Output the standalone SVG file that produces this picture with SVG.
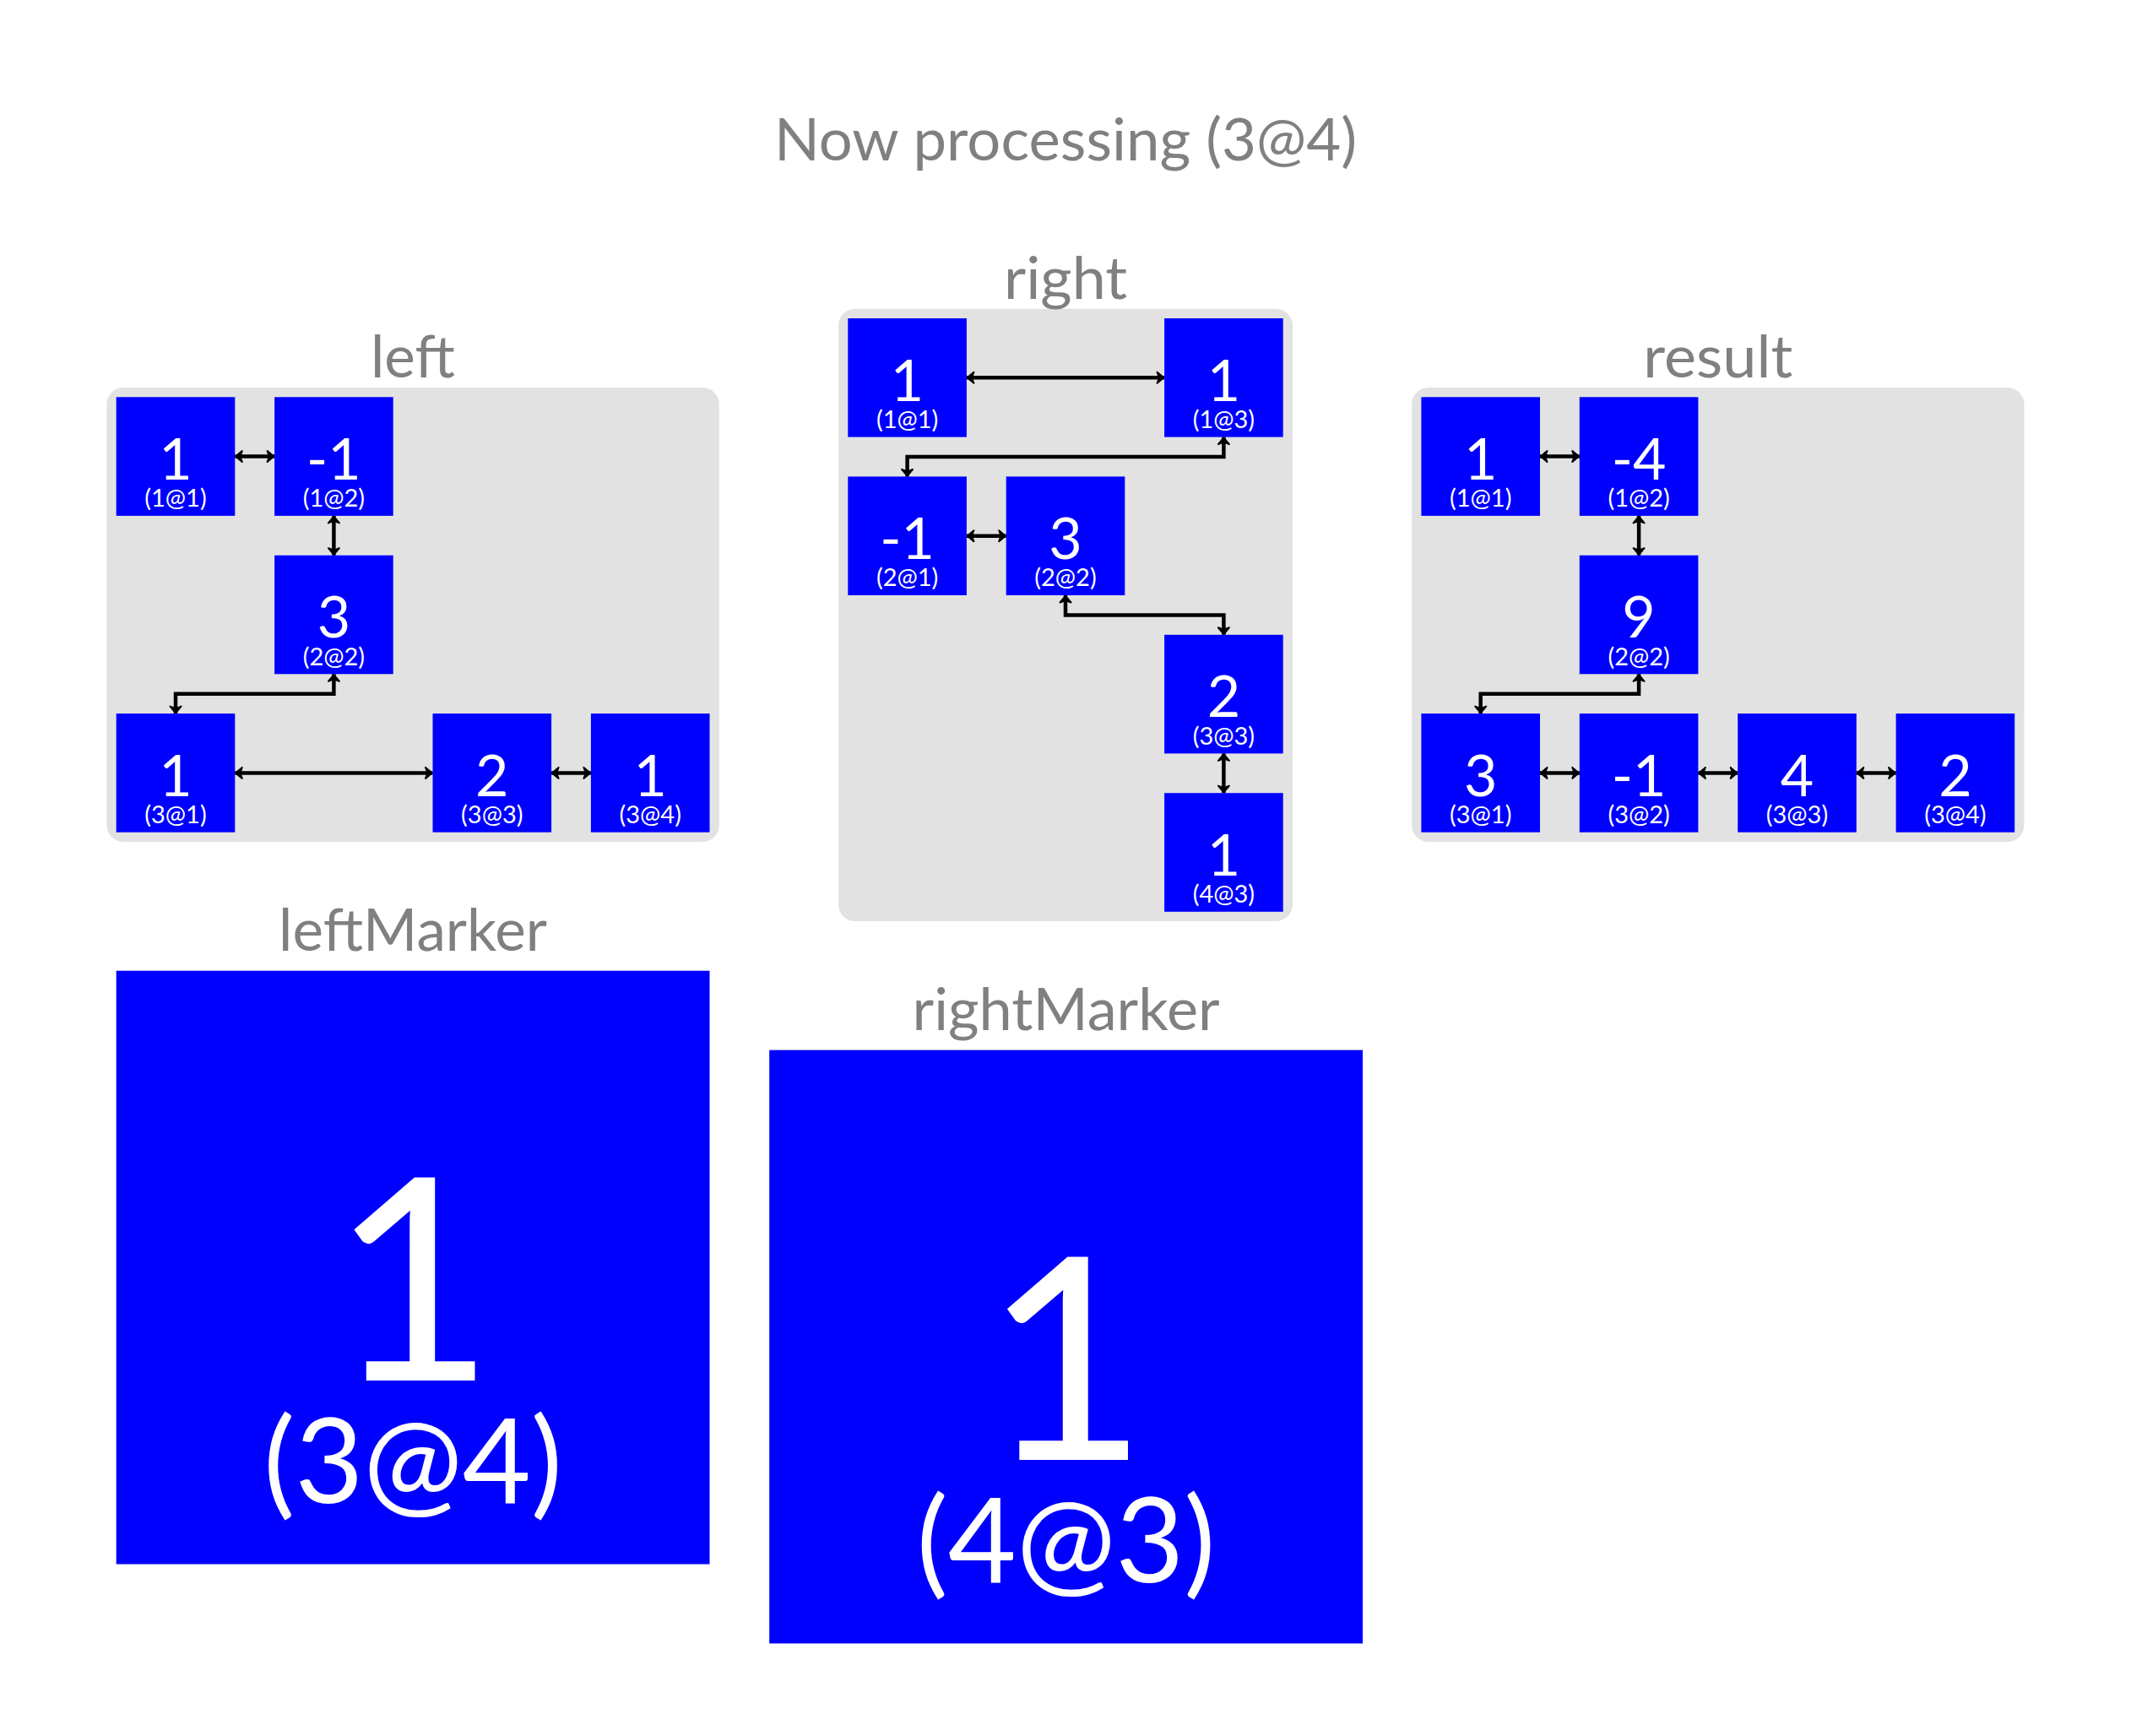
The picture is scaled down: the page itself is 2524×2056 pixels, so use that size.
<svg xmlns="http://www.w3.org/2000/svg" width="2524" height="2056" viewBox="0 0 2524 2056">
<style>
.bg{fill:#ffffff}
.panel{fill:#e2e2e2}
.node{fill:#0000ff}
.ttl{font-family:Lato,"Source Sans Pro","Noto Sans",sans-serif;fill:#808080;font-size:69px;text-anchor:middle}
.nt{font-family:Lato,"Noto Sans",sans-serif;fill:#ffffff;text-anchor:middle}
.num{font-size:68px}
.sub{font-size:29px}
.bnum{font-size:335px}
.bsub{font-size:140px}
.con{fill:none;stroke:#000000;stroke-width:4.5;marker-start:url(#ah);marker-end:url(#ah)}
</style>
<defs>
<marker id="ah" viewBox="-12 -9 14 18" refX="0" refY="0" markerWidth="14" markerHeight="18" markerUnits="userSpaceOnUse" orient="auto-start-reverse">
<path d="M-0.8,0 L-8.5,-6.5 L-6,0 L-8.5,6.5 Z" fill="#000" stroke="#000" stroke-width="2" stroke-linejoin="round"/>
</marker>
</defs>
<rect class="bg" x="0" y="0" width="2524" height="2056"/>

<text id="title" class="ttl" x="1262" y="190" textLength="690" lengthAdjust="spacingAndGlyphs">Now processing (3@4)</text>

<g id="left">
<rect class="panel" x="126.4" y="459" width="725.4" height="538" rx="20"/>
<text class="ttl" x="489" y="447" textLength="100" lengthAdjust="spacingAndGlyphs">left</text>
</g>
<g id="right">
<rect class="panel" x="993" y="365.7" width="538" height="725.4" rx="20"/>
<text class="ttl" x="1262" y="353.7" textLength="146" lengthAdjust="spacingAndGlyphs">right</text>
</g>
<g id="result">
<rect class="panel" x="1672.1" y="459" width="725.4" height="538" rx="20"/>
<text class="ttl" x="2034.8" y="447" textLength="177" lengthAdjust="spacingAndGlyphs">result</text>
</g>

<g id="connectors">
<path class="con" d="M278.3,540.6 H325.1"/>
<path class="con" d="M395.4,610.9 V657.7"/>
<path class="con" d="M395.4,798.3 V821.7 H208 V845.1"/>
<path class="con" d="M278.3,915.4 H512.5"/>
<path class="con" d="M653.1,915.4 H699.9"/>
<path class="con" d="M1144.9,447.3 H1379.1"/>
<path class="con" d="M1449.4,517.6 V541 H1074.6 V564.4"/>
<path class="con" d="M1144.9,634.7 H1191.7"/>
<path class="con" d="M1262,705 V728.4 H1449.4 V751.8"/>
<path class="con" d="M1449.4,892.4 V939.2"/>
<path class="con" d="M1824,540.6 H1870.8"/>
<path class="con" d="M1941.1,610.9 V657.7"/>
<path class="con" d="M1941.1,798.3 V821.7 H1753.7 V845.1"/>
<path class="con" d="M1824,915.4 H1870.8"/>
<path class="con" d="M2011.4,915.4 H2058.2"/>
<path class="con" d="M2198.8,915.4 H2245.6"/>
</g>

<g id="left-1-1"><rect class="node" x="137.7" y="470.3" width="140.6" height="140.6"/><text class="nt"><tspan class="num" x="208" y="567.8">1</tspan><tspan class="sub" x="208" y="600.3">(1@1)</tspan></text></g>
<g id="left-1-2"><rect class="node" x="325.1" y="470.3" width="140.6" height="140.6"/><text class="nt"><tspan class="num" x="395.4" y="567.8">-1</tspan><tspan class="sub" x="395.4" y="600.3">(1@2)</tspan></text></g>
<g id="left-2-2"><rect class="node" x="325.1" y="657.7" width="140.6" height="140.6"/><text class="nt"><tspan class="num" x="395.4" y="755.2">3</tspan><tspan class="sub" x="395.4" y="787.7">(2@2)</tspan></text></g>
<g id="left-3-1"><rect class="node" x="137.7" y="845.1" width="140.6" height="140.6"/><text class="nt"><tspan class="num" x="208" y="942.6">1</tspan><tspan class="sub" x="208" y="975.1">(3@1)</tspan></text></g>
<g id="left-3-3"><rect class="node" x="512.5" y="845.1" width="140.6" height="140.6"/><text class="nt"><tspan class="num" x="582.8" y="942.6">2</tspan><tspan class="sub" x="582.8" y="975.1">(3@3)</tspan></text></g>
<g id="left-3-4"><rect class="node" x="699.9" y="845.1" width="140.6" height="140.6"/><text class="nt"><tspan class="num" x="770.2" y="942.6">1</tspan><tspan class="sub" x="770.2" y="975.1">(3@4)</tspan></text></g>

<g id="right-1-1"><rect class="node" x="1004.3" y="377" width="140.6" height="140.6"/><text class="nt"><tspan class="num" x="1074.6" y="474.5">1</tspan><tspan class="sub" x="1074.6" y="507">(1@1)</tspan></text></g>
<g id="right-1-3"><rect class="node" x="1379.1" y="377" width="140.6" height="140.6"/><text class="nt"><tspan class="num" x="1449.4" y="474.5">1</tspan><tspan class="sub" x="1449.4" y="507">(1@3)</tspan></text></g>
<g id="right-2-1"><rect class="node" x="1004.3" y="564.4" width="140.6" height="140.6"/><text class="nt"><tspan class="num" x="1074.6" y="661.9">-1</tspan><tspan class="sub" x="1074.6" y="694.4">(2@1)</tspan></text></g>
<g id="right-2-2"><rect class="node" x="1191.7" y="564.4" width="140.6" height="140.6"/><text class="nt"><tspan class="num" x="1262" y="661.9">3</tspan><tspan class="sub" x="1262" y="694.4">(2@2)</tspan></text></g>
<g id="right-3-3"><rect class="node" x="1379.1" y="751.8" width="140.6" height="140.6"/><text class="nt"><tspan class="num" x="1449.4" y="849.3">2</tspan><tspan class="sub" x="1449.4" y="881.8">(3@3)</tspan></text></g>
<g id="right-4-3"><rect class="node" x="1379.1" y="939.2" width="140.6" height="140.6"/><text class="nt"><tspan class="num" x="1449.4" y="1036.7">1</tspan><tspan class="sub" x="1449.4" y="1069.2">(4@3)</tspan></text></g>

<g id="result-1-1"><rect class="node" x="1683.4" y="470.3" width="140.6" height="140.6"/><text class="nt"><tspan class="num" x="1753.7" y="567.8">1</tspan><tspan class="sub" x="1753.7" y="600.3">(1@1)</tspan></text></g>
<g id="result-1-2"><rect class="node" x="1870.8" y="470.3" width="140.6" height="140.6"/><text class="nt"><tspan class="num" x="1941.1" y="567.8">-4</tspan><tspan class="sub" x="1941.1" y="600.3">(1@2)</tspan></text></g>
<g id="result-2-2"><rect class="node" x="1870.8" y="657.7" width="140.6" height="140.6"/><text class="nt"><tspan class="num" x="1941.1" y="755.2">9</tspan><tspan class="sub" x="1941.1" y="787.7">(2@2)</tspan></text></g>
<g id="result-3-1"><rect class="node" x="1683.4" y="845.1" width="140.6" height="140.6"/><text class="nt"><tspan class="num" x="1753.7" y="942.6">3</tspan><tspan class="sub" x="1753.7" y="975.1">(3@1)</tspan></text></g>
<g id="result-3-2"><rect class="node" x="1870.8" y="845.1" width="140.6" height="140.6"/><text class="nt"><tspan class="num" x="1941.1" y="942.6">-1</tspan><tspan class="sub" x="1941.1" y="975.1">(3@2)</tspan></text></g>
<g id="result-3-3"><rect class="node" x="2058.2" y="845.1" width="140.6" height="140.6"/><text class="nt"><tspan class="num" x="2128.5" y="942.6">4</tspan><tspan class="sub" x="2128.5" y="975.1">(3@3)</tspan></text></g>
<g id="result-3-4"><rect class="node" x="2245.6" y="845.1" width="140.6" height="140.6"/><text class="nt"><tspan class="num" x="2315.9" y="942.6">2</tspan><tspan class="sub" x="2315.9" y="975.1">(3@4)</tspan></text></g>

<g id="leftMarker">
<text class="ttl" x="489.1" y="1125.5" textLength="318" lengthAdjust="spacingAndGlyphs">leftMarker</text>
<rect class="node" x="137.7" y="1149.7" width="702.8" height="702.8"/>
<text class="nt"><tspan class="bnum" x="489.1" y="1635">1</tspan><tspan class="bsub" x="489.1" y="1780">(3@4)</tspan></text>
</g>
<g id="rightMarker">
<text class="ttl" x="1262.6" y="1219.5" textLength="364" lengthAdjust="spacingAndGlyphs">rightMarker</text>
<rect class="node" x="911.2" y="1243.6" width="702.8" height="702.8"/>
<text class="nt"><tspan class="bnum" x="1262.6" y="1729">1</tspan><tspan class="bsub" x="1262.6" y="1874">(4@3)</tspan></text>
</g>
</svg>
